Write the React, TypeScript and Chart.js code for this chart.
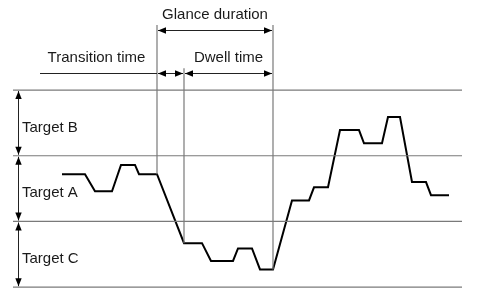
import React, { useEffect, useRef } from "react";
import { Chart, registerables } from "chart.js";

Chart.register(...registerables);

// Gaze trace: time (arbitrary units) vs. gaze position (target zone level)
const traceTime = [6.2, 8.5, 9.5, 11.2, 12.1, 13.5, 13.9, 15.7, 18.4, 20.2, 21.1, 23.3, 23.8, 25.2, 26.0, 27.3, 29.2, 30.9, 31.4, 32.8, 34.0, 35.9, 36.4, 38.2, 38.8, 40.0, 41.2, 42.6, 43.1, 44.9];
const traceLevel = [1.72, 1.72, 1.46, 1.46, 1.86, 1.86, 1.72, 1.72, 0.67, 0.67, 0.40, 0.40, 0.59, 0.59, 0.27, 0.27, 1.32, 1.32, 1.52, 1.52, 2.39, 2.39, 2.19, 2.19, 2.59, 2.59, 1.60, 1.60, 1.40, 1.40];

// Target zone boundaries and labels (bottom to top)
const zoneBounds = [0, 1, 2, 3];
const zoneLabels = ["Target C", "Target A", "Target B"];
const zoneLineStart = 1.3;
const zoneLineEnd = 46.2;
const zoneAxisTime = 1.8;
const zoneLabelTime = 2.2;

// Event markers
const glanceStart = 15.7;
const dwellStart = 18.4;
const glanceEnd = 27.3;
const markerTops = [3.99, 3.33, 3.99];
const glanceLevel = 3.91;
const phaseLevel = 3.26;
const phaseLeaderStart = 4.0;
const glanceLabelLevel = 4.14;
const phaseLabelLevel = 3.49;

const GRAY = "#7a7a7a";
const DARK = "#222222";
const FONT = "15px 'Liberation Sans', Arial, sans-serif";

function levelAt(t: number): number {
  const i = traceTime.indexOf(t);
  return i >= 0 ? traceLevel[i] : 0;
}

const annotationPlugin = {
  id: "annot",
  afterDatasetsDraw(chart: any) {
    const ctx = chart.ctx as CanvasRenderingContext2D;
    const xs = chart.scales.x;
    const ys = chart.scales.y;
    const X = (v: number) => xs.getPixelForValue(v);
    const Y = (v: number) => ys.getPixelForValue(v);

    const head = (x: number, y: number, dx: number, dy: number) => {
      const len = 8, hw = 3.2;
      const nx = -dy, ny = dx;
      ctx.beginPath();
      ctx.moveTo(x, y);
      ctx.lineTo(x - dx * len + nx * hw, y - dy * len + ny * hw);
      ctx.lineTo(x - dx * len - nx * hw, y - dy * len - ny * hw);
      ctx.closePath();
      ctx.fill();
    };
    const line = (x1: number, y1: number, x2: number, y2: number) => {
      ctx.beginPath();
      ctx.moveTo(x1, y1);
      ctx.lineTo(x2, y2);
      ctx.stroke();
    };
    const hArrow = (t1: number, t2: number, lv: number) => {
      const x1 = X(t1) + 1, x2 = X(t2) - 1, y = Math.round(Y(lv)) + 0.5;
      line(x1, y, x2, y);
      head(x1, y, -1, 0);
      head(x2, y, 1, 0);
    };
    const vArrow = (t: number, l1: number, l2: number) => {
      const x = Math.round(X(t)) + 0.5;
      const y1 = Y(l1) - 1, y2 = Y(l2) + 1;
      line(x, y1, x, y2);
      head(x, y1, 0, 1);
      head(x, y2, 0, -1);
    };

    ctx.save();
    ctx.strokeStyle = DARK;
    ctx.fillStyle = "#000";
    ctx.lineWidth = 1;

    // zone axis arrows
    for (let i = 0; i < zoneBounds.length - 1; i++) {
      vArrow(zoneAxisTime, zoneBounds[i], zoneBounds[i + 1]);
    }
    // dimension arrows
    hArrow(glanceStart, glanceEnd, glanceLevel);
    const py = Math.round(Y(phaseLevel)) + 0.5;
    line(X(phaseLeaderStart), py, X(glanceStart), py);
    hArrow(glanceStart, dwellStart, phaseLevel);
    hArrow(dwellStart, glanceEnd, phaseLevel);

    // labels
    ctx.font = FONT;
    ctx.fillStyle = "#1a1a1a";
    ctx.textBaseline = "middle";
    ctx.textAlign = "center";
    ctx.fillText("Glance duration", X((glanceStart + glanceEnd) / 2), Y(glanceLabelLevel));
    ctx.fillText("Transition time", X((phaseLeaderStart + glanceStart) / 2) - 2, Y(phaseLabelLevel));
    ctx.fillText("Dwell time", X((dwellStart + glanceEnd) / 2), Y(phaseLabelLevel));
    ctx.textAlign = "left";
    for (let i = 0; i < zoneLabels.length; i++) {
      ctx.fillText(zoneLabels[i], X(zoneLabelTime), Y(zoneBounds[i] + 0.43));
    }
    ctx.restore();
  },
};

export default function App() {
  const ref = useRef<HTMLCanvasElement | null>(null);
  useEffect(() => {
    if (!ref.current) return;
    const markers = [glanceStart, dwellStart, glanceEnd];
    const datasets: any[] = [];
    zoneBounds.forEach((b) => {
      datasets.push({
        data: [{ x: zoneLineStart, y: b }, { x: zoneLineEnd, y: b }],
        borderColor: GRAY, borderWidth: 1.2, showLine: true, pointRadius: 0,
      });
    });
    markers.forEach((t, i) => {
      datasets.push({
        data: [{ x: t, y: markerTops[i] }, { x: t, y: levelAt(t) }],
        borderColor: GRAY, borderWidth: 1.2, showLine: true, pointRadius: 0,
      });
    });
    datasets.push({
      data: traceTime.map((t, i) => ({ x: t, y: traceLevel[i] })),
      borderColor: "#000", borderWidth: 2, showLine: true, pointRadius: 0,
      borderJoinStyle: "miter", tension: 0,
    });
    const chart = new Chart(ref.current, {
      type: "scatter",
      data: { datasets },
      options: {
        animation: false,
        responsive: true,
        maintainAspectRatio: false,
        layout: { padding: 0 },
        plugins: { legend: { display: false }, tooltip: { enabled: false } },
        scales: {
          x: { type: "linear", min: 0, max: 47.8, display: false },
          y: { type: "linear", min: -0.18, max: 4.37, display: false },
        },
      },
      plugins: [annotationPlugin],
    });
    return () => chart.destroy();
  }, []);
  return (
    <div style={{ position: "absolute", left: 0, top: 0, width: 478, height: 299, background: "#fff" }}>
      <canvas ref={ref} />
    </div>
  );
}
